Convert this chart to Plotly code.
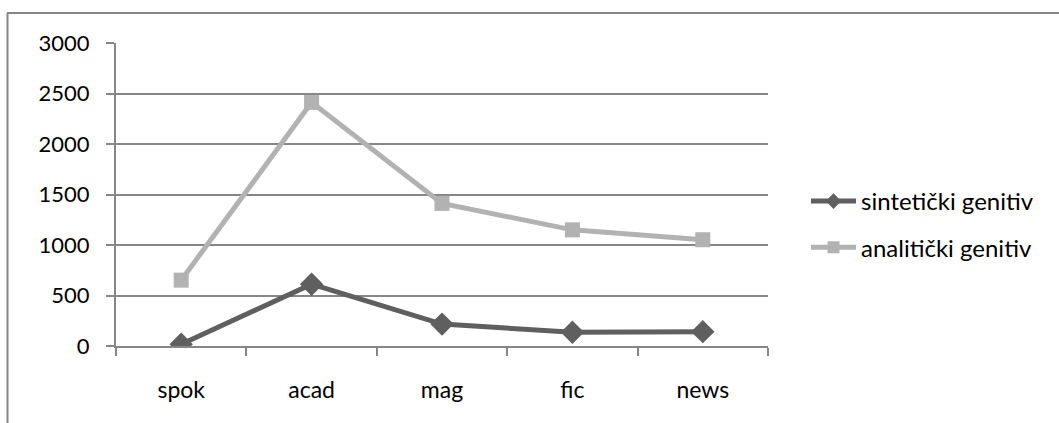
import plotly.graph_objects as go

categories = ["spok", "acad", "mag", "fic", "news"]
sinteticki = [18, 612, 217, 136, 142]
analiticki = [652, 2412, 1412, 1150, 1052]
y_ticks = [0, 500, 1000, 1500, 2000, 2500, 3000]

W, H = 1059, 423
L, R, T, B = 116, 291, 43, 77
pw, ph = W - L - R, H - T - B

def px(x):
    return (x - L) / pw

def py(y):
    return (H - B - y) / ph

font = "Lato, Open Sans, sans-serif"

fig = go.Figure()
fig.add_trace(go.Scatter(
    x=categories, y=sinteticki, name="sintetički genitiv",
    mode="lines+markers", legendgroup="a",
    line=dict(color="#5f5f5f", width=5),
    marker=dict(symbol="diamond", size=18, color="#5f5f5f"),
))
fig.add_trace(go.Scatter(
    x=categories, y=analiticki, name="analitički genitiv",
    mode="lines+markers", legendgroup="b",
    line=dict(color="#b2b2b2", width=5),
    marker=dict(symbol="square", size=15, color="#b2b2b2"),
))

fig.update_layout(
    width=W, height=H,
    margin=dict(l=L, r=R, t=T, b=B, pad=0),
    paper_bgcolor="white", plot_bgcolor="white",
    font=dict(family=font, size=22, color="#000000"),
    showlegend=True,
    legend=dict(x=px(806), y=py(179), xanchor="left", yanchor="top",
                font=dict(size=24), tracegroupgap=12, itemwidth=45,
                itemsizing="constant", bgcolor="rgba(0,0,0,0)"),
    xaxis=dict(
        type="category", range=[-0.5, 4.5],
        showgrid=False, showline=True, linecolor="#868686", linewidth=2,
        ticks="outside", tickson="boundaries", ticklen=8, tickcolor="#868686", tickwidth=2,
        ticklabelstandoff=22, tickfont=dict(size=23),
    ),
    yaxis=dict(
        range=[0, 3000], tickvals=y_ticks,
        showgrid=True, gridcolor="#868686", gridwidth=2,
        showline=True, linecolor="#868686", linewidth=2,
        ticks="outside", ticklen=8, tickcolor="#868686", tickwidth=2,
        zeroline=False, ticklabelstandoff=12, tickfont=dict(size=22),
    ),
    shapes=[
        dict(type="line", xref="paper", yref="paper",
             x0=px(7), x1=px(W), y0=py(13), y1=py(13),
             line=dict(color="#868686", width=2)),
        dict(type="line", xref="paper", yref="paper",
             x0=px(7.5), x1=px(7.5), y0=py(13), y1=py(H),
             line=dict(color="#868686", width=2)),
    ],
)

fig.write_html("out.html", config={"displayModeBar": False},
               post_script="document.body.style.margin='0';")
